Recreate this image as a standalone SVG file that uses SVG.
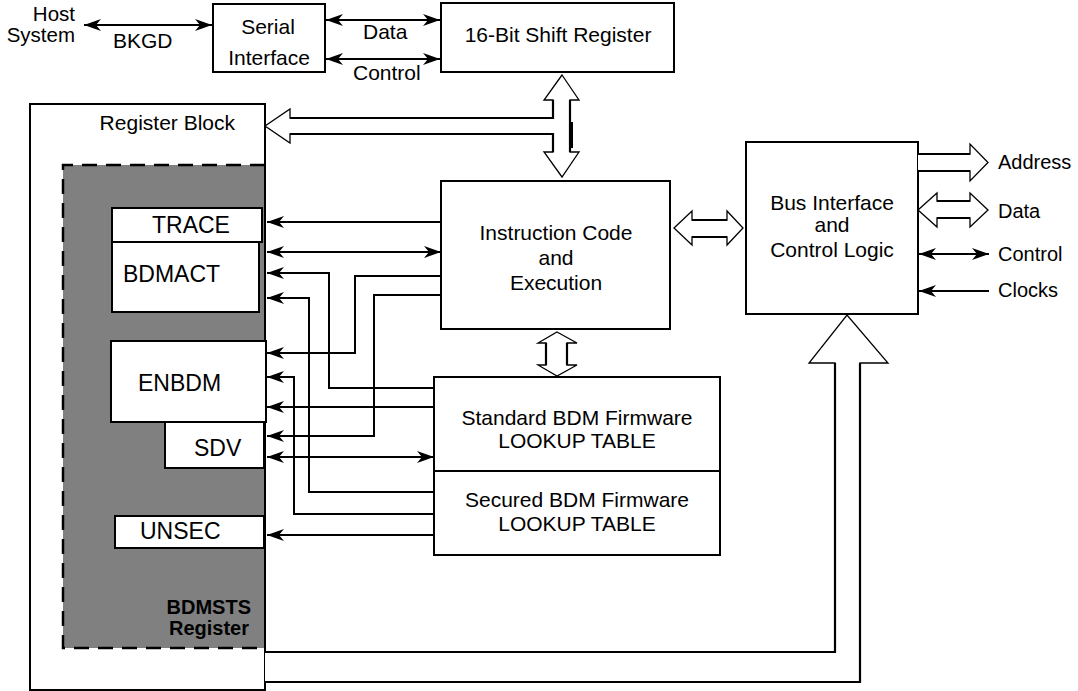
<svg xmlns="http://www.w3.org/2000/svg" width="1078" height="691" viewBox="0 0 1078 691">
<style>
text{font-family:"Liberation Sans",Arial,sans-serif;font-size:21px;fill:#000}
.reg{font-size:23px}
.sig{font-size:20px}
.bold{font-weight:bold;font-size:20px}
.box{fill:#fff;stroke:#000;stroke-width:2}
.ln{fill:none;stroke:#000;stroke-width:2}
.hol{fill:#fff;stroke:#000;stroke-width:1.3;stroke-linejoin:miter}
.shaft{fill:none;stroke:#000;stroke-width:2.2}
.mid{text-anchor:middle}
.end{text-anchor:end}
</style>
<defs>
<marker id="ah" viewBox="-17 -6 17 12" refX="0" refY="0" markerWidth="17" markerHeight="12" markerUnits="userSpaceOnUse" orient="auto-start-reverse">
<path d="M0,0 L-17,-6 L-12,0 L-17,6 Z" fill="#000"/>
</marker>
</defs>

<g id="host">
<text x="75" y="21" class="end" style="font-size:20.5px">Host</text>
<text x="75" y="42" class="end" style="font-size:20.5px">System</text>
</g>

<g id="serial-interface">
<rect x="213" y="4" width="112" height="68" class="box"/>
<text x="268" y="34" class="mid">Serial</text>
<text x="269" y="65" class="mid">Interface</text>
</g>

<g id="shift-register">
<rect x="441" y="3" width="233" height="69" class="box"/>
<text x="558" y="42" class="mid">16-Bit Shift Register</text>
</g>

<g id="register-block">
<rect x="30" y="104" width="235" height="586" fill="#fff"/>
<rect x="63" y="165" width="202" height="483" fill="#808080"/>
<path d="M265,165 H63 V648 H265" fill="none" stroke="#000" stroke-width="2.5" stroke-dasharray="15 9"/>
<rect x="30" y="104" width="235" height="586" fill="none" stroke="#000" stroke-width="2"/>
<text x="235" y="130" class="end">Register Block</text>
</g>

<g id="bdmsts">
<text x="251" y="614" class="bold end">BDMSTS</text>
<text x="249" y="635" class="bold end">Register</text>
</g>

<g id="trace">
<rect x="112" y="208" width="150" height="34" class="box"/>
<text x="152" y="233" class="reg">TRACE</text>
</g>
<g id="bdmact">
<rect x="112" y="242" width="147" height="70" class="box"/>
<text x="123" y="282" class="reg">BDMACT</text>
</g>
<g id="enbdm">
<rect x="111" y="341" width="155" height="81" class="box"/>
<text x="138" y="391" class="reg">ENBDM</text>
</g>
<g id="sdv">
<rect x="165" y="422" width="99" height="46" class="box"/>
<text x="194" y="456" class="reg">SDV</text>
</g>
<g id="unsec">
<rect x="115" y="516" width="149" height="32" class="box"/>
<text x="140" y="539" class="reg">UNSEC</text>
</g>

<g id="instruction">
<rect x="441" y="181" width="229" height="148" class="box"/>
<text x="556" y="240" class="mid">Instruction Code</text>
<text x="556" y="265" class="mid">and</text>
<text x="556" y="290" class="mid">Execution</text>
</g>

<g id="lookup-tables">
<rect x="434" y="377" width="286" height="178" class="box"/>
<line x1="434" y1="471" x2="720" y2="471" class="ln"/>
<text x="577" y="425" class="mid">Standard BDM Firmware</text>
<text x="577" y="448" class="mid">LOOKUP TABLE</text>
<text x="577" y="507" class="mid">Secured BDM Firmware</text>
<text x="577" y="531" class="mid">LOOKUP TABLE</text>
</g>

<g id="bus-interface">
<rect x="746" y="142" width="172" height="172" class="box"/>
<text x="832" y="210" class="mid">Bus Interface</text>
<text x="832" y="232" class="mid">and</text>
<text x="832" y="257" class="mid">Control Logic</text>
</g>

<g id="signal-labels">
<text x="998" y="169" class="sig">Address</text>
<text x="998" y="218" class="sig">Data</text>
<text x="998" y="261" class="sig">Control</text>
<text x="998" y="297" class="sig">Clocks</text>
</g>

<g id="connectors">
<path d="M84,25 H212" class="ln" marker-start="url(#ah)" marker-end="url(#ah)"/>
<text x="113" y="48">BKGD</text>
<path d="M326,20 H440" class="ln" marker-start="url(#ah)" marker-end="url(#ah)"/>
<text x="363" y="39">Data</text>
<path d="M326,59 H440" class="ln" marker-start="url(#ah)" marker-end="url(#ah)"/>
<text x="353" y="80">Control</text>

<path d="M562,75 L579,100 L570,100 L570,152 L579,152 L562,177 L544,152 L553,152 L553,134 L290,134 L290,143 L265,126 L290,109 L290,118 L553,118 L553,100 L544,100 Z" class="hol"/>
<path d="M570,100 V152 M553,100 V118 H290 M553,152 V134 H290" class="shaft"/>
<line x1="571.5" y1="122" x2="571.5" y2="148" stroke="#000" stroke-width="3"/>

<path d="M674,228 L692,211 L692,220 L727,220 L727,211 L743,228 L727,245 L727,237 L692,237 L692,245 Z" class="hol"/>
<path d="M692,220 H727 M692,237 H727" class="shaft"/>

<path d="M557,332 L577,343 L567,343 L567,365 L577,365 L557,376 L538,365 L546,365 L546,343 L538,343 Z" class="hol"/>
<path d="M546,343 V365 M567,343 V365" class="shaft"/>

<path d="M918,154 L970,154 L970,144 L988,162.5 L970,181 L970,171 L918,171" class="hol"/>
<path d="M918,154 H970 M918,171 H970" class="shaft"/>
<path d="M918,210 L937,193 L937,201 L970,201 L970,193 L988,210 L970,227 L970,218 L937,218 L937,227 Z" class="hol"/>
<path d="M937,201 H970 M937,218 H970" class="shaft"/>

<path d="M919,254 H989" class="ln" marker-start="url(#ah)" marker-end="url(#ah)"/>
<path d="M989,291 H919" class="ln" marker-end="url(#ah)"/>

<path d="M265,652 H835 V363 H809 L847,315 L888,363 H860 V682 H265" class="hol"/>
<path d="M265,652 H835 V363 M860,363 V682 H265" class="shaft"/>

<path d="M441,222 H267" class="ln" marker-end="url(#ah)"/>
<path d="M267,252 H441" class="ln" marker-start="url(#ah)" marker-end="url(#ah)"/>
<path d="M434,388 H329 V273 H267" class="ln" marker-end="url(#ah)"/>
<path d="M434,492 H309 V298 H267" class="ln" marker-end="url(#ah)"/>
<path d="M441,276 H355 V353 H267" class="ln" marker-end="url(#ah)"/>
<path d="M441,295 H374 V436 H267" class="ln" marker-end="url(#ah)"/>
<path d="M434,514 H294 V377 H267" class="ln" marker-end="url(#ah)"/>
<path d="M434,407 H267" class="ln" marker-end="url(#ah)"/>
<path d="M267,457 H434" class="ln" marker-start="url(#ah)" marker-end="url(#ah)"/>
<path d="M434,535 H267" class="ln" marker-end="url(#ah)"/>
</g>
</svg>
